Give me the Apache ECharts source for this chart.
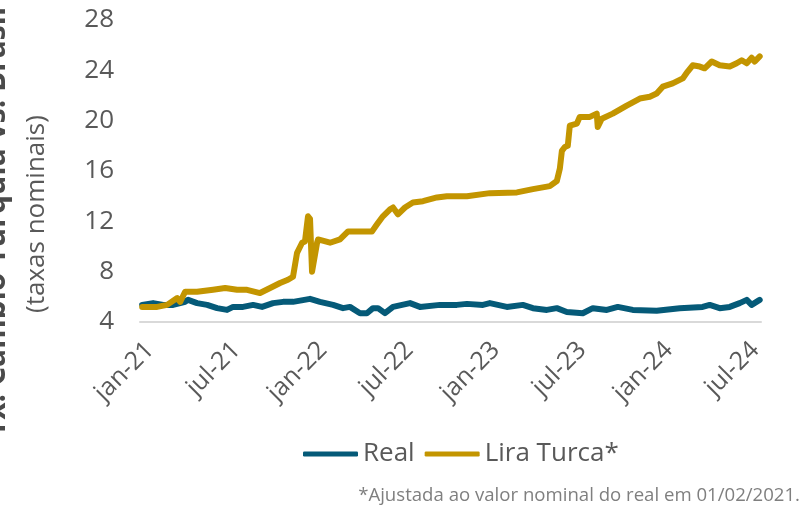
<!DOCTYPE html>
<html>
<head>
<meta charset="utf-8">
<script src="https://cdn.jsdelivr.net/npm/echarts@6/dist/echarts.min.js"></script>
<style>html,body{margin:0;padding:0;background:#fff}#c{width:802px;height:511px}</style>
</head>
<body>
<div id="c"></div>
<script>
// x positions in months since 1 jan 2021 (tick labels every 6 months)
const tickLabels = ['jan-21','jul-21','jan-22','jul-22','jan-23','jul-23','jan-24','jul-24'];
const tickMonths = [0, 6, 12, 18, 24, 30, 36, 42];
const seriesNames = ['Real','Lira Turca*'];

const liraMonths = [-0.55,0.49,1.18,1.88,2.09,2.43,3.26,4.37,5.21,6.04,6.73,7.63,8.33,9.02,9.57,9.92,10.20,10.55,10.75,10.96,11.10,11.24,11.59,11.66,12.49,13.18,13.74,14.57,15.40,15.75,16.16,16.65,16.86,17.20,17.69,18.24,18.94,19.91,20.60,21.99,23.58,25.46,26.57,27.74,28.23,28.44,28.58,28.78,28.99,29.13,29.62,29.82,30.52,31.00,31.07,31.35,32.11,33.08,33.99,34.68,35.16,35.58,36.27,36.97,37.31,37.66,38.15,38.49,38.98,39.53,40.23,40.71,41.06,41.41,41.75,41.96,42.31];
const liraValues = [5.2,5.2,5.36,5.9,5.6,6.4,6.4,6.56,6.7,6.56,6.56,6.3,6.7,7.1,7.36,7.6,9.5,10.3,10.4,12.4,12.2,8.0,10.3,10.56,10.3,10.56,11.2,11.2,11.2,11.76,12.4,12.96,13.1,12.56,13.1,13.5,13.6,13.9,14.0,14.0,14.24,14.3,14.56,14.8,15.2,16.2,17.6,17.9,18.0,19.6,19.76,20.3,20.3,20.56,19.5,20.16,20.56,21.2,21.76,21.9,22.16,22.7,22.96,23.36,23.9,24.4,24.3,24.16,24.7,24.4,24.3,24.56,24.8,24.56,25.0,24.7,25.1];

const realMonths = [-0.55,0.21,0.91,1.60,2.43,2.64,3.26,3.96,4.65,5.34,5.76,6.45,7.15,7.77,8.53,9.23,9.92,11.10,11.79,12.70,13.39,13.87,14.57,15.05,15.47,15.82,16.30,16.86,18.04,18.73,20.12,21.29,21.99,23.10,23.58,24.76,25.87,26.57,27.54,28.23,28.92,30.03,30.73,31.70,32.46,33.50,35.16,36.76,38.35,38.84,39.53,40.23,40.92,41.41,41.75,42.31];
const realValues = [5.36,5.5,5.36,5.36,5.6,5.76,5.5,5.36,5.1,4.96,5.2,5.2,5.36,5.2,5.5,5.6,5.6,5.84,5.6,5.36,5.1,5.2,4.7,4.7,5.1,5.1,4.7,5.2,5.5,5.2,5.36,5.36,5.44,5.36,5.5,5.2,5.36,5.1,4.96,5.1,4.8,4.7,5.1,4.96,5.2,4.96,4.9,5.1,5.2,5.36,5.1,5.2,5.5,5.76,5.36,5.76];

const FONT = '"Open Sans"';
const chart = echarts.init(document.getElementById('c'), null, {renderer: 'canvas'});
chart.setOption({
  animation: false,
  backgroundColor: '#ffffff',
  textStyle: {fontFamily: FONT},
  grid: {left: 140, right: 41, top: 20, bottom: 189, containLabel: false, outerBoundsMode: 'none'},
  xAxis: {
    type: 'value', min: -0.7, max: 42.4,
    axisLine: {show: true, lineStyle: {color: '#d9d9d9', width: 2}},
    axisTick: {show: false},
    splitLine: {show: false},
    axisLabel: {
      rotate: 45, margin: 24, color: '#595959', fontSize: 25, fontFamily: FONT,
      customValues: tickMonths,
      formatter: function (v) { const i = tickMonths.indexOf(Math.round(v)); return i >= 0 ? tickLabels[i] : ''; }
    }
  },
  yAxis: {
    type: 'value', min: 4, max: 28, interval: 4,
    axisLine: {show: false}, axisTick: {show: false}, splitLine: {show: false},
    axisLabel: {margin: 26, color: '#595959', fontSize: 26, fontFamily: FONT}
  },
  legend: {
    top: 436, left: 298,
    icon: 'roundRect', itemWidth: 55, itemHeight: 5, itemGap: 10,
    textStyle: {color: '#595959', fontSize: 26, fontFamily: FONT},
    data: seriesNames
  },
  series: [
    {name: seriesNames[0], type: 'line', showSymbol: false, symbol: 'none', z: 2,
     lineStyle: {color: '#055a78', width: 6, cap: 'round', join: 'round'}, itemStyle: {color: '#055a78'},
     data: realMonths.map((m, i) => [m, realValues[i]])},
    {name: seriesNames[1], type: 'line', showSymbol: false, symbol: 'none', z: 3,
     lineStyle: {color: '#c39500', width: 6, cap: 'round', join: 'round'}, itemStyle: {color: '#c39500'},
     data: liraMonths.map((m, i) => [m, liraValues[i]])}
  ],
  graphic: [
    {type: 'text', x: -4, y: 222, rotation: Math.PI / 2, style: {text: 'Tx. Câmbio Turquia vs. Brasil', font: 'bold 30px ' + FONT, fill: '#4a4a4a', align: 'center', verticalAlign: 'middle'}},
    {type: 'text', x: 37, y: 214, rotation: Math.PI / 2, style: {text: '(taxas nominais)', font: '26px ' + FONT, fill: '#595959', align: 'center', verticalAlign: 'middle'}},
    {type: 'text', right: 2, top: 486, style: {text: '*Ajustada ao valor nominal do real em 01/02/2021.', font: '18.6px ' + FONT, fill: '#7f7f7f'}}
  ]
});
</script>
</body>
</html>
